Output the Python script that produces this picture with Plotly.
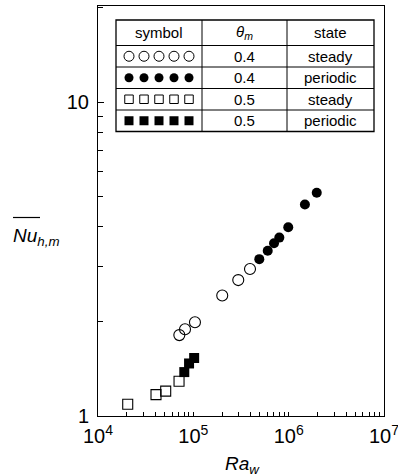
import plotly.graph_objects as go

# ---------------- data ----------------
ra_steady_04 = [7.13e4, 8.18e4, 1.04e5, 2.01e5, 2.96e5, 3.93e5]
nu_steady_04 = [1.81, 1.89, 1.99, 2.42, 2.71, 2.94]

ra_periodic_04 = [4.92e5, 6.03e5, 7.02e5, 7.98e5, 9.9e5, 1.48e6, 1.97e6]
nu_periodic_04 = [3.16, 3.36, 3.55, 3.70, 3.99, 4.72, 5.14]

ra_steady_05 = [2.05e4, 4.06e4, 5.13e4, 7.08e4]
nu_steady_05 = [1.09, 1.17, 1.20, 1.29]

ra_periodic_05 = [8.04e4, 9.02e4, 1.02e5]
nu_periodic_05 = [1.38, 1.47, 1.53]

table_header = ["symbol", "<i>θ</i><sub><i>m</i></sub>", "state"]
table_theta = ["0.4", "0.4", "0.5", "0.5"]
table_state = ["steady", "periodic", "steady", "periodic"]

x_tickvals = [1e4, 1e5, 1e6, 1e7]
x_ticktext = ["10<sup>4</sup>", "10<sup>5</sup>", "10<sup>6</sup>", "10<sup>7</sup>"]
x_minorvals = [d * m for d in (1e4, 1e5, 1e6) for m in range(2, 10)]
y_tickvals = [1, 10]
y_ticktext = ["1", "10"]
y_minorvals = [m for m in range(2, 10)] + [20]

# ---------------- geometry ----------------
W, H = 398, 476
L, R, T, B = 98, 14, 6, 60
PW, PH = W - L - R, H - T - B


def px(x):
    return (x - L) / PW


def py(y):
    return (H - B - y) / PH


FONT = "Liberation Sans, Arial, sans-serif"

fig = go.Figure()

fig.add_trace(go.Scatter(x=ra_steady_04, y=nu_steady_04, mode="markers",
                         marker=dict(symbol="circle-open", size=11, color="black",
                                     line=dict(width=1.1, color="black")),
                         showlegend=False))
fig.add_trace(go.Scatter(x=ra_periodic_04, y=nu_periodic_04, mode="markers",
                         marker=dict(symbol="circle", size=10, color="black"),
                         showlegend=False))
fig.add_trace(go.Scatter(x=ra_steady_05, y=nu_steady_05, mode="markers",
                         marker=dict(symbol="square-open", size=10, color="black",
                                     line=dict(width=1.1, color="black")),
                         showlegend=False))
fig.add_trace(go.Scatter(x=ra_periodic_05, y=nu_periodic_05, mode="markers",
                         marker=dict(symbol="square", size=10, color="black"),
                         showlegend=False))

# ---------------- table ----------------
tx0, tx1 = 116, 374
col_x = [116, 202, 287, 374]
row_y = [20, 45.5, 67, 88.5, 110, 131.5]
shapes = []
shapes.append(dict(type="rect", xref="paper", yref="paper",
                   x0=px(tx0), x1=px(tx1), y0=py(row_y[0]), y1=py(row_y[-1]),
                   line=dict(color="black", width=1.3), fillcolor="white", layer="below"))
for yy in row_y[1:-1]:
    shapes.append(dict(type="line", xref="paper", yref="paper",
                       x0=px(tx0), x1=px(tx1), y0=py(yy), y1=py(yy),
                       line=dict(color="black", width=1)))
for xx in col_x[1:-1]:
    shapes.append(dict(type="line", xref="paper", yref="paper",
                       x0=px(xx), x1=px(xx), y0=py(row_y[0]), y1=py(row_y[-1]),
                       line=dict(color="black", width=1)))

# overline of Nu
shapes.append(dict(type="line", xref="paper", yref="paper",
                   x0=px(13), x1=px(40), y0=py(217.5), y1=py(217.5),
                   line=dict(color="black", width=1.2)))

annotations = []
col_c = [(col_x[i] + col_x[i + 1]) / 2 for i in range(3)]
for i, t in enumerate(table_header):
    annotations.append(dict(x=px(col_c[i]), y=py((row_y[0] + row_y[1]) / 2), xref="paper",
                            yref="paper", text=t, showarrow=False,
                            xanchor="center", yanchor="middle",
                            font=dict(size=15, color="black", family=FONT)))
for r in range(4):
    yc = py((row_y[r + 1] + row_y[r + 2]) / 2)
    annotations.append(dict(x=px(col_c[1]), y=yc, xref="paper", yref="paper",
                            text=table_theta[r], showarrow=False,
                            xanchor="center", yanchor="middle",
                            font=dict(size=15, color="black", family=FONT)))
    annotations.append(dict(x=px(col_c[2]), y=yc, xref="paper", yref="paper",
                            text=table_state[r], showarrow=False,
                            xanchor="center", yanchor="middle",
                            font=dict(size=15, color="black", family=FONT)))

# table symbols on an overlay axis in paper-like units
sym_specs = [
    dict(symbol="circle-open", size=10, color="black", line=dict(width=1, color="black")),
    dict(symbol="circle", size=9, color="black"),
    dict(symbol="square-open", size=8.5, color="black", line=dict(width=1, color="black")),
    dict(symbol="square", size=9, color="black"),
]
for r, spec in enumerate(sym_specs):
    yc = py((row_y[r + 1] + row_y[r + 2]) / 2)
    xs = [px(col_c[0] + 15 * k) for k in range(-2, 3)]
    fig.add_trace(go.Scatter(x=xs, y=[yc] * 5, xaxis="x2", yaxis="y2", mode="markers",
                             marker=spec, showlegend=False, hoverinfo="skip"))

# axis titles
annotations.append(dict(x=px(11), y=py(237), xref="paper", yref="paper",
                        text="<i>Nu</i><sub><i>h,m</i></sub>", showarrow=False,
                        xanchor="left", yanchor="middle",
                        font=dict(size=19, color="black", family=FONT)))
annotations.append(dict(x=px(242), y=py(465), xref="paper", yref="paper",
                        text="<i>Ra</i><sub><i>w</i></sub>", showarrow=False,
                        xanchor="center", yanchor="middle",
                        font=dict(size=19, color="black", family=FONT)))

fig.update_layout(
    width=W, height=H,
    margin=dict(l=L, r=R, t=T, b=B, autoexpand=False),
    paper_bgcolor="white", plot_bgcolor="white",
    showlegend=False,
    shapes=shapes, annotations=annotations,
    xaxis=dict(type="log", range=[4, 7], tickmode="array", tickvals=x_tickvals,
               ticktext=x_ticktext, tickangle=0, ticklabeloverflow="allow",
               ticklabelstandoff=2, automargin=False,
               ticks="inside", ticklen=4, tickcolor="black", showgrid=False, zeroline=False,
               showline=True, linecolor="black", linewidth=1, mirror=True,
               minor=dict(tickmode="array", tickvals=x_minorvals, ticks="inside",
                          ticklen=4, tickcolor="black", showgrid=False),
               tickfont=dict(size=20, color="black", family=FONT)),
    yaxis=dict(type="log", range=[0, 1.306], tickmode="array", tickvals=y_tickvals,
               ticktext=y_ticktext, ticklabelstandoff=4, ticklabeloverflow="allow",
               automargin=False,
               ticks="inside", ticklen=6, tickcolor="black", showgrid=False, zeroline=False,
               showline=True, linecolor="black", linewidth=1, mirror=True,
               minor=dict(tickmode="array", tickvals=y_minorvals, ticks="inside",
                          ticklen=5, tickcolor="black", showgrid=False),
               tickfont=dict(size=20, color="black", family=FONT)),
    xaxis2=dict(overlaying="x", range=[0, 1], visible=False, fixedrange=True),
    yaxis2=dict(overlaying="y", range=[0, 1], visible=False, fixedrange=True),
)

fig.write_html("out.html", config={"displayModeBar": False, "staticPlot": True},
               post_script="document.body.style.margin='0';document.body.style.padding='0';")
